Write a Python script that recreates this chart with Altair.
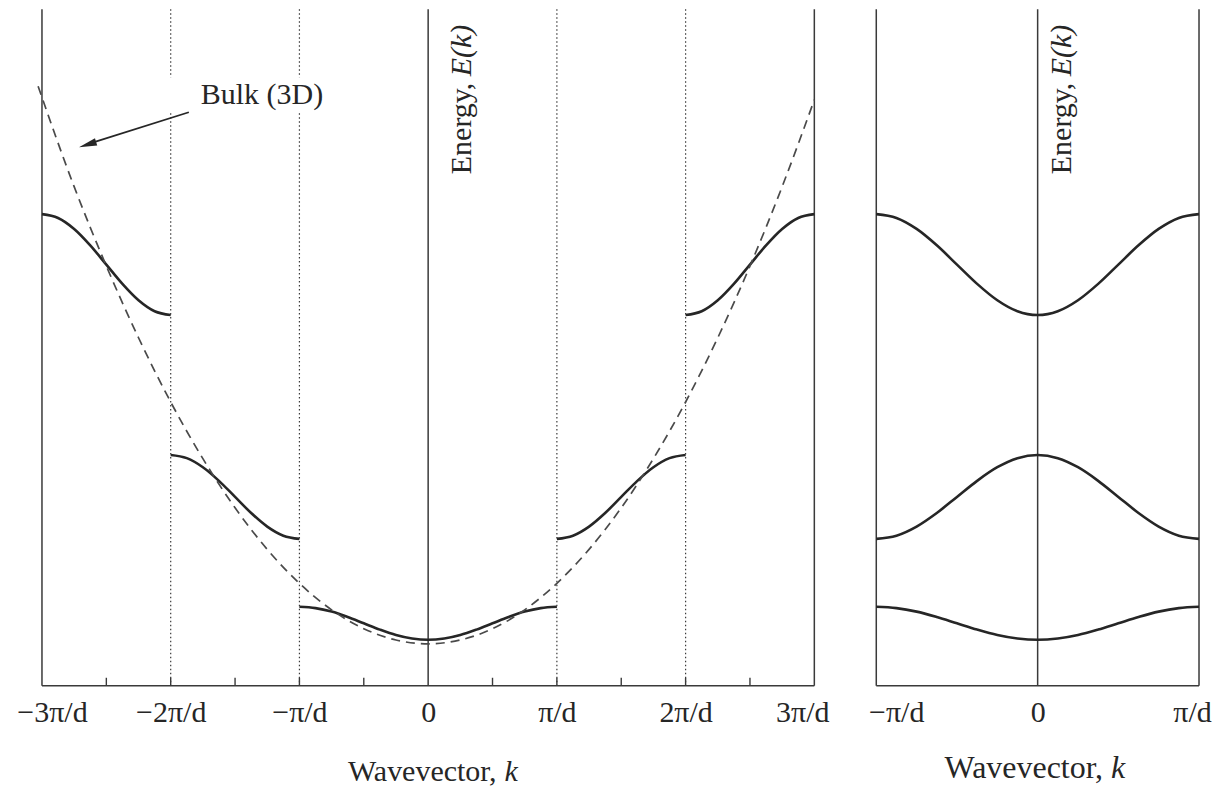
import altair as alt
import pandas as pd

# ---------------- values ----------------
# k in units of pi/d, energy E in arbitrary units (0 = bottom axis)
k_frac = [0.0, 0.125, 0.25, 0.375, 0.5, 0.625, 0.75, 0.875, 1.0]          # |k| inside first zone
band1_reduced = [46.0, 47.3, 50.8, 56.2, 62.5, 68.8, 74.2, 77.7, 79.0]
band2_reduced = [231.0, 227.8, 218.7, 205.1, 189.0, 172.9, 159.3, 150.2, 147.0]
band3_reduced = [371.0, 374.8, 385.8, 402.2, 421.5, 440.8, 457.2, 468.2, 472.0]

bulk_k = [-3.03, -2.75, -2.5, -2.25, -2.0, -1.75, -1.5, -1.25, -1.0, -0.75, -0.5, -0.25,
          0.0, 0.25, 0.5, 0.75, 1.0, 1.25, 1.5, 1.75, 2.0, 2.25, 2.5, 2.75, 3.0]
bulk_E = [600.0, 499.5, 420.1, 348.3, 284.0, 227.3, 178.1, 136.5, 102.5, 76.0, 57.1, 45.8,
          42.0, 45.8, 57.1, 76.0, 102.5, 136.5, 178.1, 227.3, 284.0, 348.3, 420.1, 499.5, 586.5]

ext_ticks = [-3, -2, -1, 0, 1, 2, 3]
ext_labels = ["−3π/d", "−2π/d", "−π/d", "0", "π/d", "2π/d", "3π/d"]
red_ticks = [-1, 0, 1]
red_labels = ["−π/d", "0", "π/d"]

ext_solid_lines = [-3, 0, 3]
ext_dotted_lines = [-2, -1, 1, 2]
ext_minor_ticks = [-2.5, -2, -1.5, -1, -0.5, 0.5, 1, 1.5, 2, 2.5]
red_solid_lines = [-1, 0, 1]

bulk_text = ["Bulk (3D)"]
bulk_text_k = [-1.766]
bulk_text_E = [582.0]
bulk_box = [-2.04, -0.76, 575.0, 609.0]   # k1, k2, E1, E2 (white knock-out behind label)
arrow_start = [-1.859, 574.0]
arrow_end = [-2.62, 543.0]
arrow_head = [-2.646, 541.7]

energy_word = "Energy,"
energy_sym = "E(k)"
wave_word = "Wavevector,"
wave_sym = "k"

# ---------------- build tables ----------------
def seg(name, ks, es):
    return pd.DataFrame({"k": ks, "E": es, "seg": name})

sym_k = [-q for q in k_frac[::-1]] + k_frac[1:]
def sym(vals):
    return vals[::-1] + vals[1:]

ext_df = pd.concat([
    seg("b1", sym_k, sym(band1_reduced)),
    seg("b2L", [-(2 - q) for q in k_frac], band2_reduced),
    seg("b2R", [2 - q for q in k_frac], band2_reduced),
    seg("b3L", [-(2 + q) for q in k_frac], band3_reduced),
    seg("b3R", [2 + q for q in k_frac], band3_reduced),
], ignore_index=True)

red_df = pd.concat([
    seg("r1", sym_k, sym(band1_reduced)),
    seg("r2", sym_k, sym(band2_reduced)),
    seg("r3", sym_k, sym(band3_reduced)),
], ignore_index=True)

bulk_df = pd.DataFrame({"k": bulk_k, "E": bulk_E})

# ---------------- style ----------------
SERIF = "Liberation Serif"
INK = "#262626"
LINE = "#3a3a3a"
W_L, W_R, H = 773, 323, 677
FS = 30

ys = alt.Scale(domain=[0, 677], nice=False, zero=False)


def label_expr(ticks, labels):
    arr = ",".join("'" + l + "'" for l in labels)
    vals = ",".join(str(t) for t in ticks)
    return "[" + arr + "][indexof([" + vals + "], datum.value)]"


def kaxis(ticks, labels, lo, hi, off_lo, off_hi):
    return alt.Axis(
        values=ticks, labelExpr=label_expr(ticks, labels), title=None,
        domain=False, ticks=False, grid=False, labelFlush=False,
        labelFont=SERIF, labelFontSize=FS, labelColor=INK, labelPadding=12,
        labelOffset={"condition": [{"test": f"datum.value <= {lo}", "value": off_lo},
                                   {"test": f"datum.value >= {hi}", "value": off_hi}],
                     "value": 0},
    )


def panel(df_bands, scale_x, axis_x, solid, dotted, minor, energy_x, title_x, title_y, title_fs):
    X = lambda f="k": alt.X(f + ":Q", scale=scale_x, axis=axis_x)
    Y = lambda f="E": alt.Y(f + ":Q", scale=ys, axis=None)

    layers = []
    layers.append(alt.Chart(pd.DataFrame({"E": [0]})).mark_rule(color=LINE, strokeWidth=1.6).encode(y=Y()))
    layers.append(alt.Chart(pd.DataFrame({"k": solid})).mark_rule(color=LINE, strokeWidth=1.5).encode(x=X()))
    if dotted:
        layers.append(alt.Chart(pd.DataFrame({"k": dotted})).mark_rule(
            color=LINE, strokeWidth=1.2, strokeDash=[1.5, 2.5]).encode(x=X()))
    if minor:
        layers.append(alt.Chart(pd.DataFrame({"k": minor})).mark_rule(
            color=LINE, strokeWidth=1.4).encode(x=X(), y=alt.value(H), y2=alt.value(H - 8)))
    layers.append(alt.Chart(df_bands).mark_line(
        interpolate="monotone", color=INK, strokeWidth=2.6).encode(x=X(), y=Y(), detail="seg:N"))
    # rotated energy label
    layers.append(alt.Chart(pd.DataFrame({"t": [energy_word]})).mark_text(
        angle=270, align="left", baseline="alphabetic", font=SERIF, fontSize=FS, color=INK).encode(
        x=alt.value(energy_x), y=alt.value(165), text="t:N"))
    layers.append(alt.Chart(pd.DataFrame({"t": [energy_sym]})).mark_text(
        angle=270, align="left", baseline="alphabetic", font=SERIF, fontSize=FS, fontStyle="italic",
        color=INK).encode(x=alt.value(energy_x), y=alt.value(67), text="t:N"))
    # x title
    layers.append(alt.Chart(pd.DataFrame({"t": [wave_word]})).mark_text(
        align="right", baseline="alphabetic", font=SERIF, fontSize=title_fs, color=INK).encode(
        x=alt.value(title_x), y=alt.value(title_y), text="t:N"))
    layers.append(alt.Chart(pd.DataFrame({"t": [wave_sym]})).mark_text(
        align="left", baseline="alphabetic", font=SERIF, fontSize=title_fs, fontStyle="italic",
        color=INK).encode(x=alt.value(title_x + 8), y=alt.value(title_y), text="t:N"))
    return layers, X, Y


xs_L = alt.Scale(domain=[-3, 3], nice=False, zero=False)
ax_L = kaxis(ext_ticks, ext_labels, -2.5, 2.5, 10, -12)
layers_L, XL, YL = panel(ext_df, xs_L, ax_L, ext_solid_lines, ext_dotted_lines, ext_minor_ticks,
                         429, 455, 772, FS)

# bulk parabola
layers_L.append(alt.Chart(bulk_df).mark_line(
    interpolate="monotone", color="#4a4a4a", strokeWidth=1.7, strokeDash=[9, 6]).encode(x=XL(), y=YL()))
# annotation: white knock-out, label, arrow
layers_L.append(alt.Chart(pd.DataFrame({"k": [bulk_box[0]], "k2": [bulk_box[1]],
                                        "E": [bulk_box[2]], "E2": [bulk_box[3]]})).mark_rect(
    color="white").encode(x=XL(), x2="k2:Q", y=YL(), y2="E2:Q"))
layers_L.append(alt.Chart(pd.DataFrame({"k": bulk_text_k, "E": bulk_text_E, "t": bulk_text})).mark_text(
    align="left", baseline="alphabetic", font=SERIF, fontSize=FS, color=INK).encode(
    x=XL(), y=YL(), text="t:N"))
layers_L.append(alt.Chart(pd.DataFrame({"k": [arrow_start[0]], "E": [arrow_start[1]],
                                        "k2": [arrow_end[0]], "E2": [arrow_end[1]]})).mark_rule(
    color=INK, strokeWidth=1.8).encode(x=XL(), y=YL(), x2="k2:Q", y2="E2:Q"))
layers_L.append(alt.Chart(pd.DataFrame({"k": [arrow_head[0]], "E": [arrow_head[1]]})).mark_point(
    shape="M0,-1L0.42,1L-0.42,1Z", filled=True, size=324, angle=252.4, color=INK, opacity=1).encode(
    x=XL(), y=YL()))

left = alt.layer(*layers_L).properties(width=W_L, height=H)

xs_R = alt.Scale(domain=[-1, 1], nice=False, zero=False)
ax_R = kaxis(red_ticks, red_labels, -0.5, 0.5, 20, -7)
layers_R, XR, YR = panel(red_df, xs_R, ax_R, red_solid_lines, [], [], 195, 227, 769, 32)
right = alt.layer(*layers_R).properties(width=W_R, height=H)

chart = alt.hconcat(left, right, spacing=62, bounds="flush").properties(
    padding={"left": 8, "top": 0, "right": 0, "bottom": 0}, background="white"
).configure_view(stroke=None)

chart.save("out.html", embed_options={"renderer": "svg", "actions": False})
